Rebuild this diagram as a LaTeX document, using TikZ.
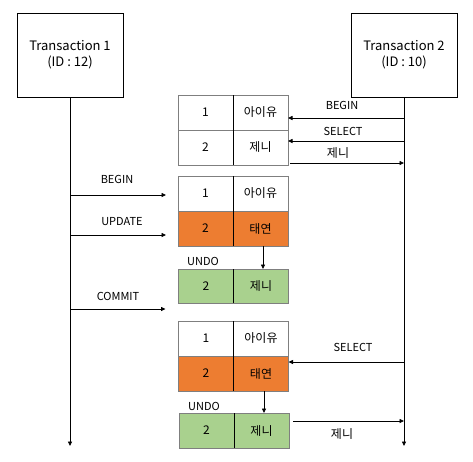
\documentclass[tikz,border=0pt]{standalone}
\usepackage{fontspec}
\setmainfont{Noto Sans CJK KR}
\usetikzlibrary{arrows.meta,positioning,calc}
\definecolor{updorange}{HTML}{ED7D31}
\definecolor{undogreen}{HTML}{A9D18E}
\definecolor{cellline}{HTML}{7F7F7F}

\begin{document}
\begin{tikzpicture}[x=1pt, y=-1pt,
  txbox/.style={rectangle, draw, line width=0.8pt, minimum width=106pt, minimum height=84pt, align=center, font=\fontsize{13}{16}\selectfont},
  cell/.style={rectangle, draw=cellline, line width=0.9pt, minimum width=55pt, minimum height=35pt, inner sep=0pt, outer sep=0pt, font=\fontsize{12}{14}\selectfont},
  lbl/.style={inner sep=0pt, font=\fontsize{11}{13}\selectfont},
  arr/.style={-{Triangle[length=4.5pt,width=4pt]}, line width=0.8pt},
  coldiv/.style={line width=0.9pt}
]
\useasboundingbox (0,0) rectangle (473,461);

% Transactions and their lifelines
\node[txbox] (tx1) at (70,55) {Transaction 1\\(ID : 12)};
\node[txbox] (tx2) at (404,55) {Transaction 2\\(ID : 10)};
\coordinate (end1) at (70,446);
\coordinate (end2) at (404,446);
\draw[arr] (tx1) -- (end1);
\draw[arr] (tx2) -- (end2);

% First read by transaction 2
\node[cell] (a1l) at (205.5,112.5) {1};
\node[cell] (a1r) at (260.5,112.5) {아이유};
\node[cell] (a2l) at (205.5,147.5) {2};
\node[cell] (a2r) at (260.5,147.5) {제니};
\draw[coldiv] (a1l.north east) -- (a2l.south east);
\coordinate (t2begin) at (404,118);
\coordinate (t2select) at (404,141);
\coordinate (t2res) at (404,163);
\draw[arr] (t2begin) -- (t2begin -| a1r.east);
\draw[arr] (t2select) -- (t2select -| a1r.east);
\draw[arr, shorten <=2pt] (t2res -| a2r.east) -- (t2res);
\node[lbl] at (342,105) {BEGIN};
\node[lbl] at (343,131) {SELECT};
\node[lbl, font=\fontsize{12}{14}\selectfont] at (338,153) {제니};

% Update by transaction 1
\node[cell] (b1l) at (205.5,193.5) {1};
\node[cell] (b1r) at (260.5,193.5) {아이유};
\node[cell, fill=updorange] (b2l) at (205.5,228.5) {2};
\node[cell, fill=updorange] (b2r) at (260.5,228.5) {태연};
\draw[coldiv] (b1l.north east) -- (b2l.south east);
\node[cell, fill=undogreen, minimum height=34pt] (ubl) at (206,286) {2};
\node[cell, fill=undogreen, minimum height=34pt] (ubr) at (261,286) {제니};
\draw[coldiv] (ubl.north east) -- (ubl.south east);
\draw[arr] ([xshift=2.5pt]b2r.south) -- ([xshift=2pt]ubr.north);
\coordinate (t1begin) at (70,195);
\coordinate (t1update) at (70,235);
\coordinate (t1commit) at (70,309);
\draw[arr, shorten >=12pt] (t1begin) -- (t1begin -| b1l.west);
\draw[arr, shorten >=12pt] (t1update) -- (t1update -| b2l.west);
\draw[arr, shorten >=13pt] (t1commit) -- (t1commit -| ubl.west);
\node[lbl] at (117,179) {BEGIN};
\node[lbl] at (122,222) {UPDATE};
\node[lbl] at (203,261) {UNDO};
\node[lbl] at (118,296) {COMMIT};

% Second read by transaction 2
\node[cell] (c1l) at (206,338.5) {1};
\node[cell] (c1r) at (261,338.5) {아이유};
\node[cell, fill=updorange] (c2l) at (206,373.5) {2};
\node[cell, fill=updorange] (c2r) at (261,373.5) {태연};
\draw[coldiv] (c1l.north east) -- (c2l.south east);
\node[cell, fill=undogreen] (ucl) at (206.5,430.5) {2};
\node[cell, fill=undogreen] (ucr) at (261.5,430.5) {제니};
\draw[coldiv] (ucl.north east) -- (ucl.south east);
\draw[arr] ([xshift=3pt]c2r.south) -- ([xshift=2.5pt]ucr.north);
\coordinate (t2select2) at (404,362);
\coordinate (t2res2) at (404,421);
\draw[arr] (t2select2) -- (t2select2 -| c2r.east);
\draw[arr, shorten <=4pt] (t2res2 -| ucr.east) -- (t2res2);
\node[lbl] at (353,347) {SELECT};
\node[lbl] at (204,406) {UNDO};
\node[lbl, font=\fontsize{12}{14}\selectfont] at (342,434) {제니};

\end{tikzpicture}
\end{document}
